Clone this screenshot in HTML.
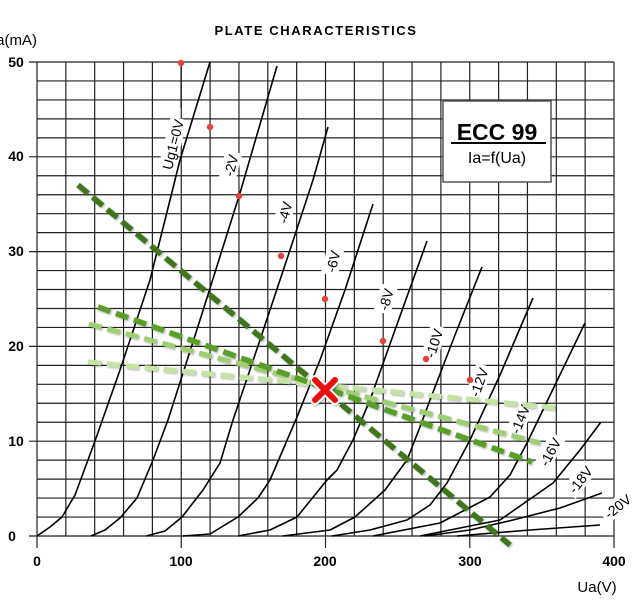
<!DOCTYPE html>
<html><head><meta charset="utf-8"><style>
html,body{margin:0;padding:0;background:#fff;}
svg{display:block;}
text{font-family:"Liberation Sans",sans-serif;}
</style></head><body>
<svg width="639" height="603" viewBox="0 0 639 603" xmlns="http://www.w3.org/2000/svg">
<defs>
<filter id="sh" x="-20%" y="-50%" width="140%" height="200%"><feDropShadow dx="1" dy="1" stdDeviation="1" flood-color="#000" flood-opacity="0.35"/></filter>
</defs>
<rect width="639" height="603" fill="#fff"/>
<g stroke="#222" stroke-width="1.2" fill="none">
<path d="M37 62V536M65.85 62V536M94.7 62V536M123.55 62V536M152.4 62V536M181.25 62V536M210.1 62V536M238.95 62V536M267.8 62V536M296.65 62V536M325.5 62V536M354.35 62V536M383.2 62V536M412.05 62V536M440.9 62V536M469.75 62V536M498.6 62V536M527.45 62V536M556.3 62V536M585.15 62V536M614 62V548"/>
<path d="M37 62H614M37 80.96H614M37 99.92H614M37 118.88H614M37 137.84H614M37 156.8H614M37 175.76H614M37 194.72H614M37 213.68H614M37 232.64H614M37 251.6H614M37 270.56H614M37 289.52H614M37 308.48H614M37 327.44H614M37 346.4H614M37 365.36H614M37 384.32H614M37 403.28H614M37 422.24H614M37 441.2H614M37 460.16H614M37 479.12H614M37 498.08H614M37 517.04H614M37 536H614"/>
<path d="M29 62H37M29 156.8H37M29 251.6H37M29 346.4H37M29 441.2H37M29 536H37M37 536V548M181.25 536V548M325.5 536V548M469.75 536V548"/>
</g>
<g fill="#000" font-size="14" font-weight="bold">
<text x="16" y="67" text-anchor="middle">50</text>
<text x="16" y="161" text-anchor="middle">40</text>
<text x="16" y="256" text-anchor="middle">30</text>
<text x="16" y="351" text-anchor="middle">20</text>
<text x="16" y="446" text-anchor="middle">10</text>
<text x="12" y="541" text-anchor="middle">0</text>
<text x="37" y="566" text-anchor="middle">0</text>
<text x="181" y="566" text-anchor="middle">100</text>
<text x="325" y="566" text-anchor="middle">200</text>
<text x="470" y="566" text-anchor="middle">300</text>
<text x="614" y="566" text-anchor="middle">400</text>
</g>
<text x="-8" y="45" font-size="15" fill="#000">Ia(mA)</text>
<text x="597" y="592" font-size="15" fill="#000" text-anchor="middle">Ua(V)</text>
<text x="316" y="35" font-size="13" font-weight="bold" letter-spacing="1.6" text-anchor="middle" fill="#000">PLATE CHARACTERISTICS</text>
<g stroke="#000" stroke-width="1.6" fill="none" stroke-linejoin="round">
<polyline points="37,536 50,527 62,517 75,495 95,441 120,370 150,280 180,160 210,62"/>
<polyline points="91,536 105,530 120,518 137,498 153,460 168,420 200,320 240,193 277,66"/>
<polyline points="146,536 165,531 182,517 203,490 220,463 233,420 260,340 290,250 313,180 328,127"/>
<polyline points="183,536 210,534 238,517 258,498 270,480 297,417 320,360 345,290 373,204"/>
<polyline points="238,536 270,530 297,517 327,480 337,470 353,440 370,400 395,330 427,241"/>
<polyline points="283,536 330,530 355,517 385,490 407,460 420,427 430,400 455,335 482,267"/>
<polyline points="332,536 370,530 407,520 430,505 447,483 470,440 500,375 533,298"/>
<polyline points="373,536 440,523 490,497 510,475 527,443 555,385 585,323"/>
<polyline points="420,536 500,520 553,483 580,450 601,422"/>
<polyline points="425,536 470,530 513,520 560,508 602,493"/>
<polyline points="457,536 530,530 600,525"/>
</g>
<line x1="181" y1="63" x2="181" y2="108" stroke="#000" stroke-width="1"/>
<g font-size="14" fill="#000">
<g transform="translate(175,145) rotate(-76)"><rect x="-27" y="-11" width="54" height="17" fill="#fff"/><text x="0" y="3" text-anchor="middle">Ug1=0V</text></g>
<g transform="translate(233,166) rotate(-76)"><rect x="-14" y="-11" width="28" height="17" fill="#fff"/><text x="0" y="3" text-anchor="middle">-2V</text></g>
<g transform="translate(287,213) rotate(-76)"><rect x="-14" y="-11" width="28" height="17" fill="#fff"/><text x="0" y="3" text-anchor="middle">-4V</text></g>
<g transform="translate(335,262) rotate(-76)"><rect x="-14" y="-11" width="28" height="17" fill="#fff"/><text x="0" y="3" text-anchor="middle">-6V</text></g>
<g transform="translate(388,300) rotate(-74)"><rect x="-14" y="-11" width="28" height="17" fill="#fff"/><text x="0" y="3" text-anchor="middle">-8V</text></g>
<g transform="translate(436,344) rotate(-72)"><rect x="-18" y="-11" width="36" height="17" fill="#fff"/><text x="0" y="3" text-anchor="middle">-10V</text></g>
<g transform="translate(481,383) rotate(-70)"><rect x="-18" y="-11" width="36" height="17" fill="#fff"/><text x="0" y="3" text-anchor="middle">-12V</text></g>
<g transform="translate(522,420) rotate(-68)"><rect x="-18" y="-11" width="36" height="17" fill="#fff"/><text x="0" y="3" text-anchor="middle">-14V</text></g>
<g transform="translate(552,453) rotate(-62)"><rect x="-18" y="-11" width="36" height="17" fill="#fff"/><text x="0" y="3" text-anchor="middle">-16V</text></g>
<g transform="translate(582,481) rotate(-52)"><rect x="-18" y="-11" width="36" height="17" fill="#fff"/><text x="0" y="3" text-anchor="middle">-18V</text></g>
<g transform="translate(619,508) rotate(-38)"><rect x="-18" y="-11" width="36" height="17" fill="#fff"/><text x="0" y="3" text-anchor="middle">-20V</text></g>
</g>
<g fill="#e8403a">
<circle cx="181" cy="63" r="3.2"/><circle cx="210" cy="127" r="3.2"/><circle cx="239" cy="196" r="3.2"/><circle cx="281" cy="256" r="3.2"/><circle cx="325" cy="299" r="3.2"/><circle cx="383" cy="341" r="3.2"/><circle cx="426" cy="359" r="3.2"/><circle cx="470" cy="380" r="3.2"/>
</g>
<g fill="none" stroke-width="5" stroke-dasharray="13,6" filter="url(#sh)">
<line x1="88" y1="362" x2="558" y2="408" stroke="#c4e4a4"/>
<line x1="89" y1="324" x2="540" y2="443" stroke="#9fce72"/>
<line x1="98" y1="307" x2="532" y2="462" stroke="#5a9e2a" stroke-width="5.5"/>
<line x1="78" y1="185" x2="510" y2="545" stroke="#3f741c" stroke-width="5.5"/>
</g>
<g filter="url(#sh)">
<path d="M315 380L335 400M335 380L315 400" stroke="#fff" stroke-width="10" stroke-linecap="round"/>
<path d="M315 380L335 400M335 380L315 400" stroke="#ee1111" stroke-width="6" stroke-linecap="round"/>
</g>
<rect x="443" y="101" width="108" height="81" fill="#fff" stroke="#555" stroke-width="1.5"/>
<text x="497" y="140" font-size="23" font-weight="bold" text-anchor="middle" fill="#000">ECC 99</text>
<line x1="451" y1="143" x2="546" y2="143" stroke="#000" stroke-width="2"/>
<text x="497" y="163" font-size="16" text-anchor="middle" fill="#000">Ia=f(Ua)</text>
</svg>
</body></html>
